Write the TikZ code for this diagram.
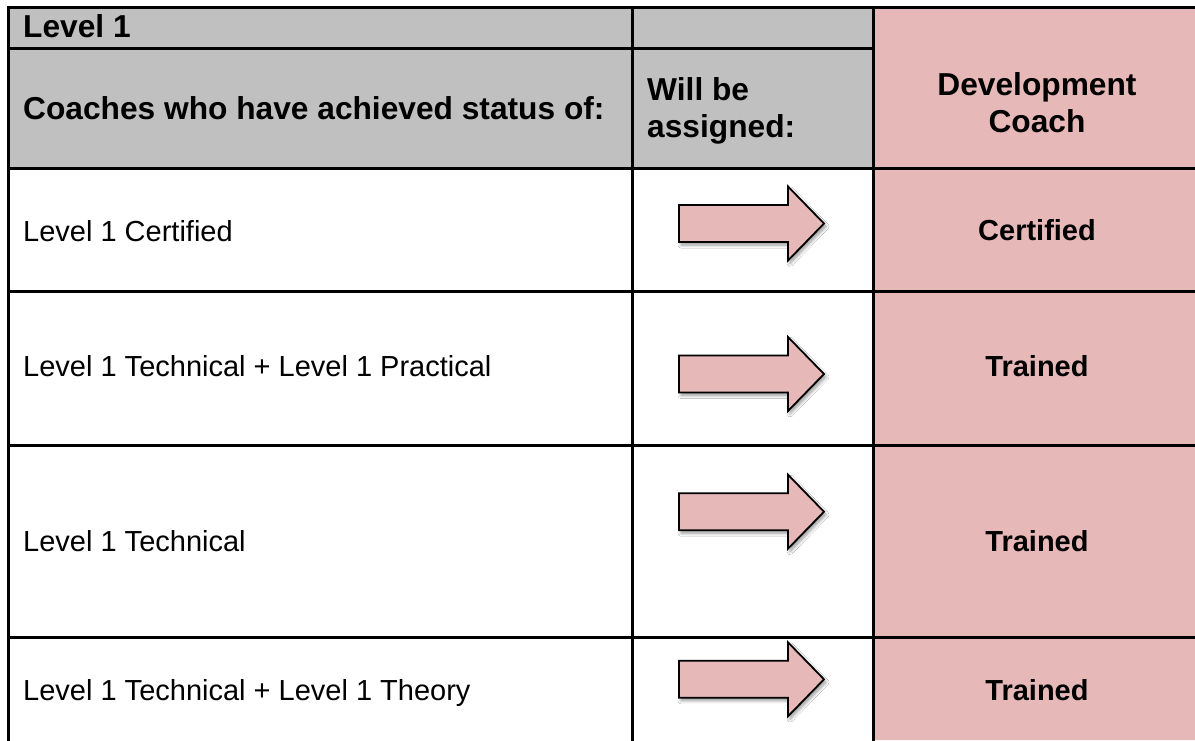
\documentclass[tikz,border=0pt]{standalone}
\usepackage{fontspec}
\setmainfont{Liberation Sans}
\usetikzlibrary{shadows.blur}
\definecolor{hdrgray}{HTML}{C0C0C0}
\definecolor{pinkcell}{HTML}{E6B8B7}
\tikzset{
  gridline/.style={line width=3pt, draw=black, line cap=rect},
  bodytext/.style={font=\fontsize{29}{35}\selectfont, inner sep=0pt, anchor=base west},
  resulttext/.style={font=\bfseries\fontsize{29}{35}\selectfont, inner sep=0pt, anchor=base},
  headtext/.style={font=\bfseries\fontsize{31.7}{37}\selectfont, inner sep=0pt},
  arrowshape/.style={fill=pinkcell, draw=black, line width=1.8pt, line join=miter,
    blur shadow={shadow xshift=2pt, shadow yshift=-3pt, shadow blur steps=8, shadow opacity=40, shadow blur radius=3pt}}
}
\begin{document}
\begin{tikzpicture}[x=1pt, y=-1pt]
\useasboundingbox (0,0) rectangle (1195,740);
% fills
\fill[white] (0,0) rectangle (1195,740);
\fill[hdrgray] (8,7) rectangle (873,168);
\fill[pinkcell] (873,7) rectangle (1195,740);
% arrows
\foreach \yc in {223.5,374,511.7,679.3}{
  \draw[arrowshape] (679,\yc-18.5) -- (788,\yc-18.5) -- (788,\yc-37) -- (824,\yc)
    -- (788,\yc+37) -- (788,\yc+18.5) -- (679,\yc+18.5) -- cycle;
}
% grid
\draw[gridline] (8,7) -- (1200,7);
\draw[gridline] (8,7) -- (8,745);
\draw[gridline] (632,7) -- (632,745);
\draw[gridline] (873,7) -- (873,745);
\draw[gridline] (8,48) -- (873,48);
\foreach \yr in {168,291,445,637}{
  \draw[gridline] (8,\yr) -- (1200,\yr);
}
% header texts
\node[headtext, anchor=base west] (lvl) at (23,37) {Level 1};
\node[headtext, anchor=base west] (coaches) at (23,119) {Coaches who have achieved status of:};
\node[headtext, anchor=north west, align=left] (assigned) at (647,77.3) {Will be\\assigned:};
\node[headtext, anchor=north, align=center] (devcoach) at (1037,72.3) {Development\\Coach};
% body texts
\node[bodytext] (r1) at (23,241.7) {Level 1 Certified};
\node[bodytext] (r2) at (23,376) {Level 1 Technical + Level 1 Practical};
\node[bodytext] (r3) at (23,551) {Level 1 Technical};
\node[bodytext] (r4) at (23,700) {Level 1 Technical + Level 1 Theory};
\node[resulttext] (s1) at (1037,240) {Certified};
\node[resulttext] (s2) at (1037,376) {Trained};
\node[resulttext] (s3) at (1037,551) {Trained};
\node[resulttext] (s4) at (1037,700) {Trained};
\end{tikzpicture}
\end{document}
